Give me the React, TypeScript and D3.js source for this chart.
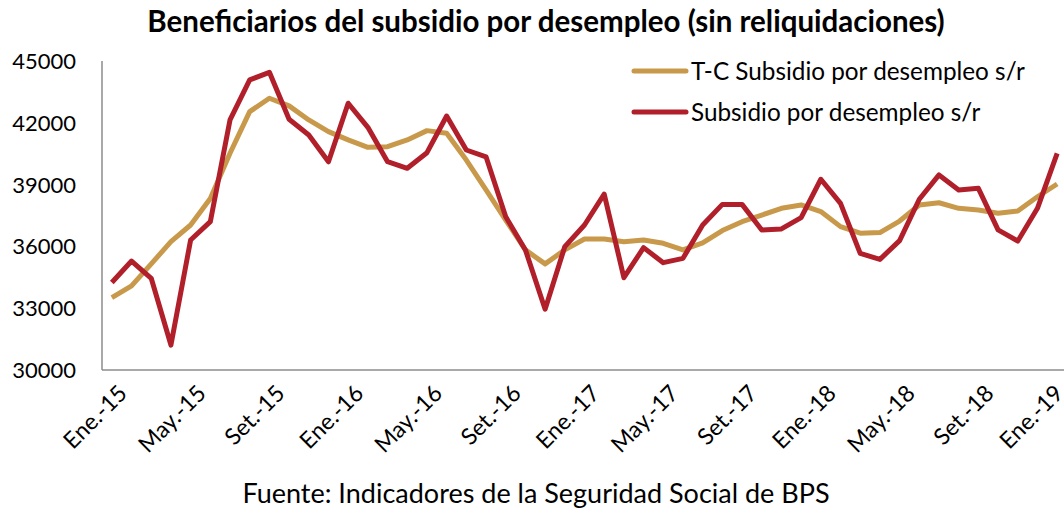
import React from "react";
import * as d3 from "d3";

const months = ["Ene.", "Feb.", "Mar.", "Abr.", "May.", "Jun.", "Jul.", "Ago.", "Set.", "Oct.", "Nov.", "Dic."];
const years = ["15", "16", "17", "18", "19"];
const categories = years.flatMap((y) => months.map((m) => `${m}-${y}`)).slice(0, 49);

// T-C (tendencia-ciclo)
const tendencia = [
  33510, 34080, 35150, 36230, 37040, 38330, 40520, 42540, 43190, 42820, 42140, 41570,
  41170, 40810, 40840, 41170, 41620, 41490, 40190, 38740, 37280, 35830, 35150, 35830,
  36360, 36360, 36230, 36310, 36150, 35830, 36170, 36770, 37200, 37520, 37850, 38010,
  37690, 36960, 36640, 36670, 37230, 38010, 38120, 37850, 37770, 37610, 37720, 38410,
  39030,
];

// serie original
const subsidio = [
  34250, 35290, 34450, 31210, 36310, 37200, 42140, 44080, 44450, 42170, 41410, 40110,
  42950, 41780, 40110, 39790, 40550, 42330, 40680, 40350, 37440, 35830, 32950, 35990,
  37040, 38540, 34480, 35940, 35210, 35420, 37040, 38040, 38040, 36800, 36850, 37400,
  39260, 38090, 35660, 35370, 36280, 38290, 39470, 38740, 38820, 36800, 36260, 37850,
  40520,
];

const yTicks = [30000, 33000, 36000, 39000, 42000, 45000];

const series = [
  { name: "T-C Subsidio por desempleo s/r", values: tendencia, color: "#C8994A" },
  { name: "Subsidio por desempleo s/r", values: subsidio, color: "#B01F2A" },
];

const W = 1064;
const H = 510;
const left = 102;
const right = 1067;
const top = 61;
const bottom = 370;

export default function App() {
  const x = d3.scaleBand<string>().domain(categories).range([left, right]);
  const y = d3.scaleLinear().domain([30000, 45000]).range([bottom, top]);
  const cx = (c: string) => (x(c) ?? 0) + x.bandwidth() / 2;

  const line = d3
    .line<number>()
    .x((_, i) => cx(categories[i]))
    .y((d) => y(d));

  const font = "Lato, 'Open Sans', sans-serif";

  return (
    <svg
      width={W}
      height={H}
      style={{ position: "absolute", left: 0, top: 0, background: "#fff" }}
      fontFamily={font}
    >
      <text x={546} y={32} textAnchor="middle" fontSize={29.5} fontWeight="bold" fill="#000">
        Beneficiarios del subsidio por desempleo (sin reliquidaciones)
      </text>

      {yTicks.map((t) => (
        <text key={t} x={76} y={y(t) + 8} textAnchor="end" fontSize={22} fill="#000">
          {t}
        </text>
      ))}

      <line x1={left} x2={left} y1={top} y2={bottom} stroke="#8c8c8c" strokeWidth={1.5} />
      <line x1={left} x2={W} y1={bottom} y2={bottom} stroke="#8c8c8c" strokeWidth={1.5} />

      {categories.map((c, i) =>
        i % 4 === 0 ? (
          <text
            key={c}
            transform={`translate(${Math.min(cx(c) + 5, W - 11)},${bottom + 13}) rotate(-45)`}
            textAnchor="end"
            dy="0.72em"
            fontSize={23}
            fill="#000"
          >
            {c}
          </text>
        ) : null
      )}

      {series.map((s) => (
        <path
          key={s.name}
          d={line(s.values) ?? ""}
          fill="none"
          stroke={s.color}
          strokeWidth={5}
          strokeLinejoin="round"
        />
      ))}

      {series.map((s, i) => (
        <g key={s.name} transform={`translate(0,${71 + i * 41})`}>
          <line x1={634} x2={686} y1={0} y2={0} stroke={s.color} strokeWidth={5} strokeLinecap="round" />
          <text x={691} y={9} fontSize={24.3} fill="#000">
            {s.name}
          </text>
        </g>
      ))}

      <text x={536} y={503} textAnchor="middle" fontSize={27} fill="#000">
        Fuente: Indicadores de la Seguridad Social de BPS
      </text>
    </svg>
  );
}
